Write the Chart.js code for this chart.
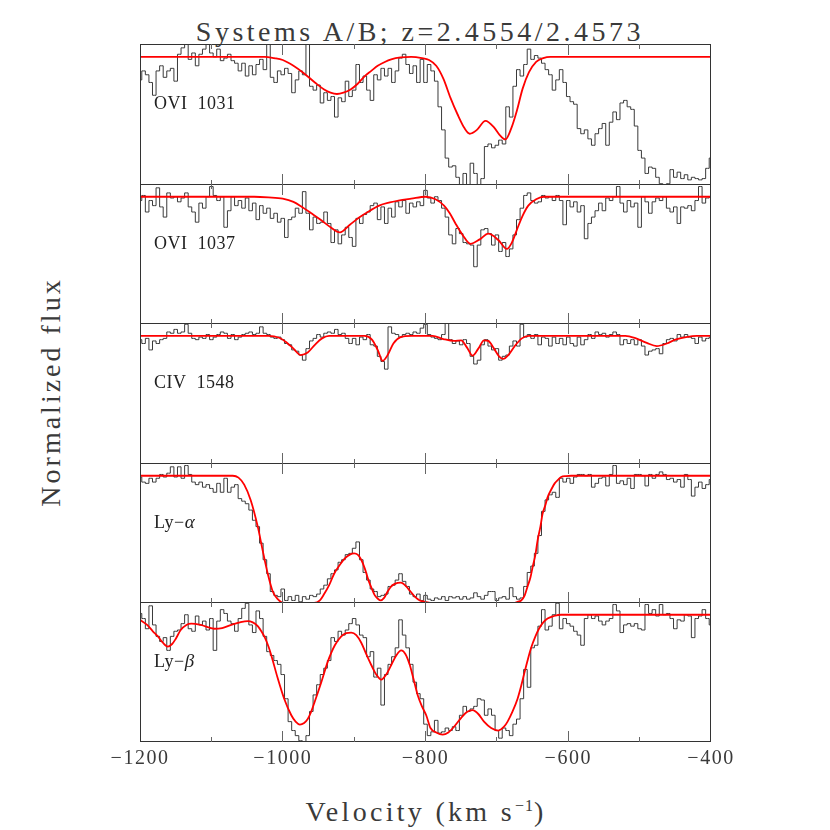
<!DOCTYPE html>
<html>
<head>
<meta charset="utf-8">
<script src="https://cdn.jsdelivr.net/npm/chart.js@4.4.0/dist/chart.umd.min.js"></script>
<style>
  body { margin: 0; background: #fff; }
  #page { position: relative; width: 830px; height: 830px; font-family: "Liberation Serif", serif; color: #3a3a3a; }
  #page canvas { position: absolute; }
  .txt { position: absolute; white-space: nowrap; font-size: 28px; line-height: 28px; letter-spacing: 3px; }
  .txt sup { font-size: 16px; letter-spacing: 1px; vertical-align: 10px; line-height: 0; }
</style>
</head>
<body>
<div id="page">
  <div class="txt" style="left:0;width:840px;text-align:center;top:18px;letter-spacing:3.5px">Systems A/B; z=2.4554/2.4573</div>
  <div class="txt" style="left:-99px;width:300px;text-align:center;top:378px;transform:rotate(-90deg)">Normalized flux</div>
  <div class="txt" style="left:0;width:852px;text-align:center;top:798px;letter-spacing:3.3px">Velocity (km s<sup>−1</sup>)</div>
</div>
<script>
// velocity bins of the spectra (km/s)
const velocity = [
  -1200,-1195,-1190,-1185,-1180,-1175,-1170,-1165,-1160,-1155,
  -1150,-1145,-1140,-1135,-1130,-1125,-1120,-1115,-1110,-1105,
  -1100,-1095,-1090,-1085,-1080,-1075,-1070,-1065,-1060,-1055,
  -1050,-1045,-1040,-1035,-1030,-1025,-1020,-1015,-1010,-1005,
  -1000,-995,-990,-985,-980,-975,-970,-965,-960,-955,
  -950,-945,-940,-935,-930,-925,-920,-915,-910,-905,
  -900,-895,-890,-885,-880,-875,-870,-865,-860,-855,
  -850,-845,-840,-835,-830,-825,-820,-815,-810,-805,
  -800,-795,-790,-785,-780,-775,-770,-765,-760,-755,
  -750,-745,-740,-735,-730,-725,-720,-715,-710,-705,
  -700,-695,-690,-685,-680,-675,-670,-665,-660,-655,
  -650,-645,-640,-635,-630,-625,-620,-615,-610,-605,
  -600,-595,-590,-585,-580,-575,-570,-565,-560,-555,
  -550,-545,-540,-535,-530,-525,-520,-515,-510,-505,
  -500,-495,-490,-485,-480,-475,-470,-465,-460,-455,
  -450,-445,-440,-435,-430,-425,-420,-415,-410,-405,
  -400
];

// normalized flux, one value per velocity bin
const ovi1031Flux = [
  0.82,0.89,0.86,0.80,0.70,0.89,0.93,0.84,0.89,0.91,
  0.81,1.02,1.07,1.10,0.98,1.03,0.93,1.02,1.06,1.10,
  1.03,1.00,1.06,0.97,0.99,1.02,0.97,0.95,0.89,0.95,
  0.85,0.93,0.86,0.94,0.98,0.90,1.10,0.84,0.80,0.89,
  0.86,0.91,0.87,0.72,0.82,0.89,0.86,1.10,0.77,0.74,
  0.78,0.64,0.72,0.66,0.69,0.53,0.68,0.65,0.81,0.69,
  0.74,0.94,0.80,0.85,0.74,0.66,0.86,0.82,0.91,0.85,
  0.91,0.80,0.89,0.99,1.02,0.94,0.87,0.93,0.80,0.98,
  0.80,0.94,0.89,0.81,0.61,0.43,0.21,0.14,0.15,0.06,
  -0.02,0.09,-0.03,0.17,0.09,-0.02,0.05,0.30,0.32,0.29,
  0.31,0.35,0.32,0.61,0.53,0.77,0.90,0.85,0.94,1.06,
  0.98,1.01,0.99,0.95,0.90,0.86,0.74,0.82,0.90,0.80,
  0.69,0.65,0.63,0.44,0.40,0.43,0.36,0.31,0.40,0.44,
  0.48,0.31,0.49,0.57,0.51,0.64,0.66,0.61,0.59,0.46,
  0.27,0.21,0.09,0.14,0.13,0.06,0.01,-0.02,0.01,0.12,
  0.06,0.10,0.05,0.08,0.04,0.06,0.05,0.04,0.05,0.13,
  0.21
];
const ovi1037Flux = [
  0.97,1.01,0.88,0.97,0.93,1.07,0.92,0.84,1.03,0.99,
  1.00,0.96,0.99,1.03,0.92,0.88,0.80,0.95,0.91,1.00,
  1.08,1.01,0.97,1.00,0.76,0.89,1.00,0.93,0.97,0.91,
  0.99,0.89,0.95,0.82,0.93,0.87,0.91,0.83,0.87,0.80,
  0.83,0.68,0.82,0.84,0.91,0.87,1.04,0.87,0.74,0.84,
  0.79,0.80,0.88,0.79,0.64,0.74,0.63,0.70,0.76,0.68,
  0.61,0.83,0.79,0.86,0.88,0.93,0.95,0.82,0.92,0.79,
  0.91,0.84,0.96,0.92,0.97,0.87,0.95,0.92,0.96,0.93,
  1.05,0.99,0.95,1.00,0.97,0.91,0.84,0.70,0.63,0.75,
  0.71,0.64,0.63,0.62,0.45,0.62,0.74,0.75,0.71,0.62,
  0.70,0.57,0.64,0.53,0.59,0.70,0.82,0.91,1.01,1.03,
  0.97,0.95,0.96,1.01,0.99,1.00,0.97,1.01,0.97,0.78,
  0.97,0.92,0.96,0.88,0.93,0.67,0.79,0.84,0.89,0.95,
  0.89,0.99,0.97,1.00,1.08,0.95,0.88,0.97,0.92,0.95,
  0.76,1.00,0.96,0.87,0.96,0.99,0.97,1.00,0.91,0.88,
  0.92,0.79,0.92,0.91,0.93,0.89,0.97,1.08,0.95,0.99,
  1.00
];
const civ1548Flux = [
  0.97,0.94,0.98,0.89,0.96,0.94,0.97,0.98,1.03,1.02,
  1.05,1.02,1.03,1.09,1.02,0.98,0.97,0.99,0.98,1.01,
  0.97,0.99,1.01,1.03,1.02,0.98,1.01,0.97,0.99,1.01,
  1.02,1.03,1.01,1.02,1.07,1.02,1.01,0.99,0.98,0.99,
  0.97,0.94,0.93,0.89,0.88,0.85,0.81,0.90,0.96,0.98,
  1.01,0.99,1.02,1.03,1.02,1.05,1.01,1.02,0.98,0.94,
  0.98,0.93,0.99,0.97,1.01,0.93,0.92,0.84,0.80,0.74,
  1.07,1.02,1.01,0.99,1.01,1.02,1.01,1.03,1.02,1.06,
  1.09,1.01,0.99,0.98,0.97,1.01,1.10,0.97,0.94,0.96,
  0.93,0.97,0.94,0.84,0.78,0.81,0.93,0.97,0.92,0.89,
  0.90,0.81,0.84,0.85,0.92,0.96,0.92,1.09,0.99,1.01,
  0.98,1.01,0.93,0.99,0.98,0.92,0.99,0.94,0.98,0.93,
  0.99,0.94,0.92,0.99,0.93,0.97,1.01,0.98,1.03,1.01,
  1.02,0.99,1.01,1.03,1.01,0.93,0.97,0.94,0.97,0.93,
  0.97,0.92,0.85,0.88,0.89,0.90,0.86,0.94,0.97,0.98,
  0.96,1.01,0.99,1.01,0.99,0.98,0.94,0.99,0.96,0.98,
  0.99
];
const lyaFlux = [
  0.99,0.95,0.94,0.98,0.95,0.98,1.01,0.99,1.02,1.07,
  0.99,1.07,0.98,1.08,1.01,0.95,0.93,0.95,0.91,0.93,
  0.90,0.87,0.94,0.87,0.98,0.87,0.91,0.93,0.82,0.80,
  0.78,0.73,0.65,0.60,0.47,0.34,0.23,0.09,0.06,0.05,
  0.11,0.02,0.05,0.02,0.06,0.01,0.05,0.03,0.06,0.05,
  0.07,0.11,0.14,0.19,0.23,0.26,0.32,0.34,0.38,0.39,
  0.43,0.48,0.34,0.24,0.18,0.11,0.09,0.05,0.06,0.07,
  0.13,0.14,0.18,0.23,0.17,0.13,0.07,0.05,0.07,0.02,
  0.06,0.03,0.02,0.04,0.03,0.05,0.02,0.05,0.04,0.05,
  0.03,0.05,0.03,0.04,0.08,0.05,0.03,0.06,0.09,0.09,
  0.02,0.04,0.05,0.03,0.12,0.05,0.03,0.04,0.13,0.24,
  0.29,0.39,0.53,0.72,0.81,0.85,0.87,0.83,0.98,0.95,
  0.98,0.94,0.99,1.01,1.01,1.00,1.01,0.91,0.94,0.98,
  0.99,0.92,1.01,1.08,0.94,0.96,0.93,0.98,0.90,1.01,
  1.01,1.00,0.92,1.01,0.98,1.01,1.03,1.01,0.97,0.98,
  0.95,0.97,0.91,1.01,0.97,0.84,0.91,0.95,0.90,0.93,
  0.97
];
const lybFlux = [
  1.01,0.97,0.89,1.07,0.92,0.83,0.79,0.82,0.72,0.83,
  0.87,0.88,0.93,1.00,0.89,0.87,0.99,0.92,0.95,0.88,
  0.97,0.72,0.95,1.04,1.01,0.95,0.93,0.87,0.97,1.05,
  1.09,0.92,0.86,1.03,0.97,0.83,0.71,0.68,0.64,0.61,
  0.53,0.34,0.16,0.09,0.05,0.01,-0.01,0.05,0.24,0.37,
  0.45,0.53,0.58,0.64,0.82,0.79,0.87,0.84,0.88,0.93,
  0.97,0.92,0.84,0.82,0.67,0.71,0.51,0.58,0.29,0.53,
  0.61,0.67,0.74,0.96,0.84,0.74,0.61,0.47,0.38,0.34,
  0.14,0.05,0.08,0.17,0.07,0.08,0.11,0.09,0.12,0.09,
  0.21,0.28,0.24,0.26,0.28,0.34,0.33,0.21,0.26,0.21,
  0.09,0.03,0.11,0.09,0.05,0.14,0.18,0.34,0.57,0.43,
  0.74,0.76,0.91,1.04,0.88,0.91,1.00,1.09,0.89,0.97,
  0.93,0.91,0.87,0.84,0.76,0.97,1.00,0.97,0.99,0.95,
  0.92,0.95,0.97,1.08,1.03,0.86,0.92,0.93,0.91,0.93,
  0.89,0.88,1.08,1.01,1.04,0.99,1.08,1.00,1.01,0.97,
  0.89,0.96,0.95,1.00,0.99,0.82,0.97,0.99,1.04,0.97,
  0.92
];

// fitted profiles (velocity, flux)
const ovi1031FitVel = [-1200,-1025,-1012,-1000,-985,-970,-955,-942,-933,-924,-915,-905,-895,-885,-876,-867,-857,-848,-835,-820,-805,-795,-785,-775,-765,-755,-745,-738,-728,-716,-704,-696,-688,-680,-672,-664,-655,-645,-635,-625,-400];
const ovi1031Fit    = [1,1,0.99,0.975,0.93,0.87,0.80,0.745,0.72,0.71,0.72,0.745,0.79,0.85,0.89,0.93,0.96,0.98,0.995,1,0.99,0.975,0.93,0.83,0.68,0.55,0.44,0.40,0.43,0.50,0.45,0.39,0.356,0.44,0.58,0.75,0.88,0.96,0.99,1,1];
const ovi1037FitVel = [-1200,-1040,-1020,-1000,-985,-973,-960,-946,-933,-920,-906,-892,-878,-865,-850,-838,-820,-800,-786,-774,-766,-758,-748,-737,-724,-712,-698,-686,-679,-672,-664,-656,-645,-634,-400];
const ovi1037Fit    = [1,1,0.995,0.985,0.96,0.92,0.87,0.815,0.76,0.72,0.78,0.84,0.89,0.93,0.955,0.97,0.985,1,0.98,0.93,0.87,0.79,0.70,0.63,0.665,0.71,0.66,0.59,0.64,0.74,0.85,0.93,0.98,1,1];
const civ1548FitVel = [-1200,-1020,-1005,-995,-985,-975,-965,-955,-945,-935,-885,-875,-867,-860,-853,-845,-835,-820,-790,-775,-760,-750,-742,-734,-726,-718,-712,-704,-697,-691,-684,-675,-665,-655,-520,-505,-490,-476,-462,-450,-435,-420,-400];
const civ1548Fit    = [1,1,0.985,0.95,0.90,0.85,0.87,0.93,0.98,1,1,0.97,0.89,0.805,0.85,0.94,0.99,1,1,0.975,0.96,0.965,0.91,0.845,0.90,0.965,0.96,0.90,0.84,0.82,0.85,0.92,0.98,1,1,0.98,0.945,0.92,0.94,0.97,0.99,1,1];
const lyaFitVel = [-1200,-1070,-1062,-1054,-1045,-1035,-1028,-1021,-1014,-1007,
  -998,-956,-948,-942,-935,-928,-920,-913,-906,-900,
  -895,-890,-885,-880,-875,-871,-867,-863,-858,-853,
  -848,-843,-839,-835,-831,-827,-821,-815,-808,-801,
  -790,-676,-671,-666,-661,-657,-653,-650,-646,-643,
  -639,-636,-632,-629,-624,-619,-614,-610,-603,-596,-400];
const lyaFit = [1,1,0.985,0.93,0.81,0.60,0.41,0.23,0.09,0.03,
  0,0,0.02,0.07,0.14,0.23,0.30,0.35,0.38,0.39,
  0.38,0.34,0.27,0.18,0.11,0.06,0.035,0.02,0.04,0.09,
  0.13,0.15,0.158,0.16,0.152,0.13,0.09,0.05,0.02,0.01,
  0,0,0.01,0.02,0.06,0.13,0.20,0.28,0.38,0.49,
  0.60,0.70,0.77,0.83,0.89,0.94,0.97,0.99,0.997,1,1];
const lybFitVel = [-1200,-1190,-1182,-1175,-1168,-1161,-1155,-1150,-1143,-1135,
  -1128,-1115,-1096,-1085,-1072,-1060,-1049,-1042,-1035,-1030,
  -1025,-1020,-1016,-1007,-998,-988,-982,-976,-970,-965,
  -960,-955,-946,-937,-927,-918,-911,-904,-897,-890,
  -883,-876,-869,-862,-855,-848,-841,-834,-828,-822,
  -817,-811,-805,-799,-793,-785,-776,-768,-760,-750,
  -742,-734,-726,-718,-708,-698,-690,-685,-678,-671,
  -666,-662,-657,-652,-646,-641,-635,-629,-620,-610,-400];
const lybFit = [0.96,0.92,0.87,0.83,0.78,0.75,0.77,0.81,0.88,0.92,
  0.93,0.92,0.89,0.895,0.92,0.94,0.95,0.94,0.91,0.87,
  0.82,0.75,0.68,0.50,0.34,0.21,0.16,0.137,0.15,0.18,
  0.24,0.32,0.47,0.63,0.76,0.83,0.855,0.86,0.84,0.78,
  0.69,0.605,0.53,0.49,0.53,0.605,0.68,0.72,0.69,0.605,
  0.50,0.37,0.28,0.21,0.11,0.075,0.058,0.075,0.12,0.19,
  0.235,0.25,0.22,0.16,0.11,0.09,0.12,0.16,0.24,0.34,
  0.44,0.53,0.64,0.74,0.83,0.89,0.94,0.97,0.99,1,1];

const tickValues = [-1200, -1000, -800, -600, -400];
const panelLabels = [['OVI  1031', ''], ['OVI  1037', ''], ['CIV  1548', ''], ['Ly−', 'α'], ['Ly−', 'β']];

const panels = [
  { flux: ovi1031Flux, fitVel: ovi1031FitVel, fit: ovi1031Fit },
  { flux: ovi1037Flux, fitVel: ovi1037FitVel, fit: ovi1037Fit },
  { flux: civ1548Flux, fitVel: civ1548FitVel, fit: civ1548Fit },
  { flux: lyaFlux, fitVel: lyaFitVel, fit: lyaFit },
  { flux: lybFlux, fitVel: lybFitVel, fit: lybFit }
];

// page rows where the panel frames sit
const edges = [44, 184, 323, 463, 602, 741];
const FONT = '"Liberation Serif", serif';

const panelFrame = {
  id: 'panelFrame',
  afterDraw(chart, args, opts) {
    const { ctx, chartArea: a } = chart;
    const x = chart.scales.x;
    ctx.save();
    ctx.lineWidth = 1;
    ctx.strokeStyle = '#333';
    ctx.strokeRect(a.left + 0.5, a.top + 0.5, a.right - a.left - 1, a.bottom - a.top - 1);

    // inward ticks, top and bottom
    ctx.strokeStyle = '#666';
    x.ticks.forEach(t => {
      if (t.value <= x.min || t.value >= x.max) return;
      const px = Math.floor(x.getPixelForValue(t.value)) + 0.5;
      const len = tickValues.includes(t.value) ? 11 : 5;
      ctx.beginPath();
      ctx.moveTo(px, a.top); ctx.lineTo(px, a.top + len);
      ctx.moveTo(px, a.bottom); ctx.lineTo(px, a.bottom - len);
      ctx.stroke();
    });

    // line label
    ctx.fillStyle = '#222';
    ctx.textBaseline = 'alphabetic';
    ctx.font = '18px ' + FONT;
    ctx.letterSpacing = '0.5px';
    const [txt, greek] = opts.label;
    ctx.fillText(txt, a.left + 14, a.top + 65);
    if (greek) {
      const w = ctx.measureText(txt).width;
      ctx.font = 'italic 19px ' + FONT;
      ctx.fillText(greek, a.left + 14 + w, a.top + 65);
    }

    // tick labels under the last panel
    if (opts.axis) {
      ctx.fillStyle = '#3a3a3a';
      ctx.font = '20px ' + FONT;
      ctx.letterSpacing = '1.5px';
      ctx.textAlign = 'center';
      tickValues.forEach(v => {
        const s = v < 0 ? '−' + Math.abs(v) : String(v);
        ctx.fillText(s, x.getPixelForValue(v), a.bottom + 22);
      });
    }
    ctx.restore();
  }
};

const page = document.getElementById('page');
panels.forEach((p, k) => {
  const last = k === panels.length - 1;
  const cv = document.createElement('canvas');
  const h = edges[k + 1] - edges[k] + 1 + (last ? 30 : 0);
  cv.width = 631; cv.height = h;
  cv.style.left = '110px';
  cv.style.top = edges[k] + 'px';
  cv.style.width = '631px'; cv.style.height = h + 'px';
  page.appendChild(cv);

  new Chart(cv, {
    type: 'line',
    data: {
      datasets: [
        {
          data: p.fitVel.map((v, i) => ({ x: v, y: p.fit[i] })),
          borderColor: '#ff0000', borderWidth: 1.8, pointRadius: 0,
          cubicInterpolationMode: 'monotone', fill: false
        },
        {
          data: velocity.map((v, i) => ({ x: v, y: p.flux[i] })),
          borderColor: '#3a3a3a', borderWidth: 1, pointRadius: 0,
          stepped: 'middle', fill: false
        }
      ]
    },
    options: {
      responsive: false,
      animation: false,
      devicePixelRatio: 1,
      events: [],
      layout: { padding: { left: 30, right: 30, top: 0, bottom: last ? 30 : 0 } },
      scales: {
        x: { type: 'linear', min: -1200, max: -400, display: false, ticks: { stepSize: 50 } },
        y: { min: 0, max: 1.1, display: false }
      },
      plugins: {
        legend: { display: false },
        tooltip: { enabled: false },
        panelFrame: { label: panelLabels[k], axis: last }
      }
    },
    plugins: [panelFrame]
  });
});
</script>
</body>
</html>
